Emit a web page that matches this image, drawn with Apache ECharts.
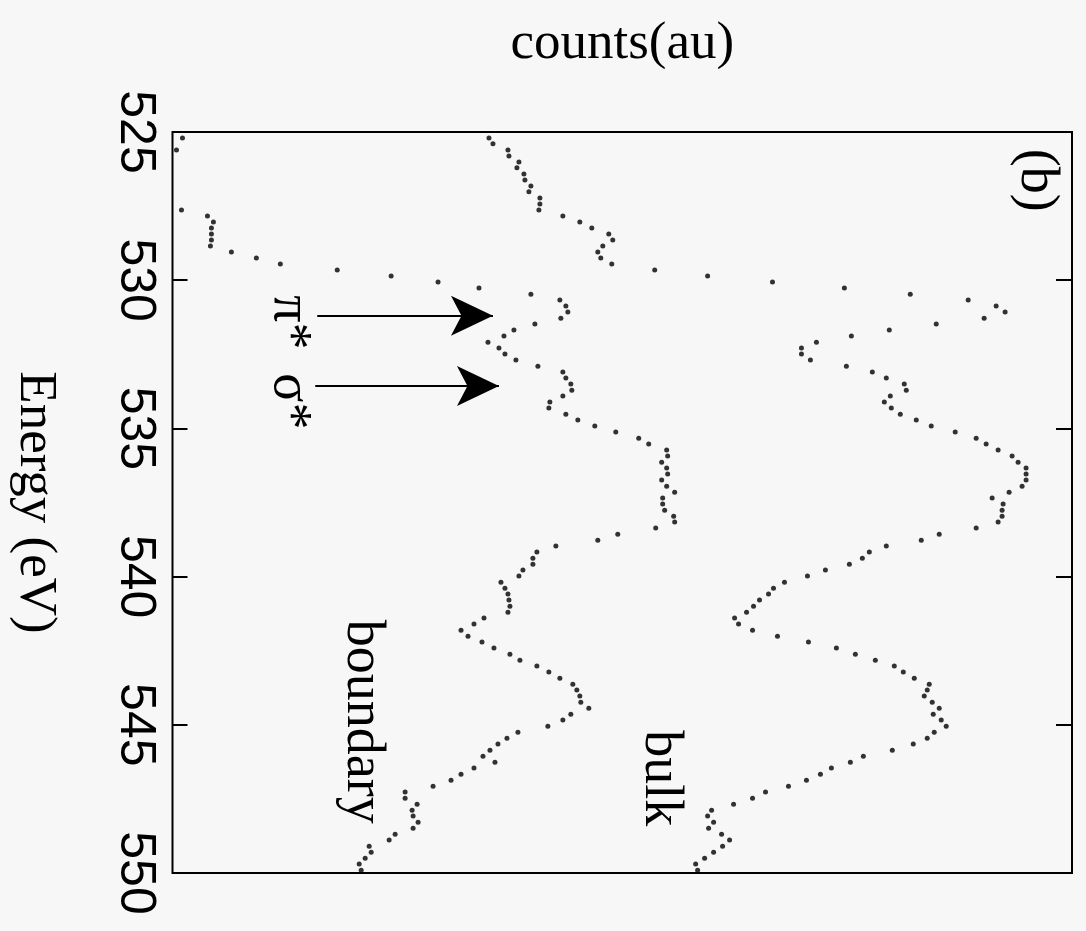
<!DOCTYPE html>
<html>
<head>
<meta charset="utf-8">
<script src="https://cdn.jsdelivr.net/npm/echarts@6/dist/echarts.min.js"></script>
<style>
  html, body { margin: 0; padding: 0; background: #f7f7f7; }
  #chart { width: 1086px; height: 931px; }
</style>
</head>
<body>
<div id="chart"></div>
<script>
const energy = [
  525.20,525.40,525.61,525.81,526.01,526.21,526.42,526.62,526.82,527.02,
  527.23,527.43,527.63,527.83,528.04,528.24,528.44,528.64,528.85,529.05,
  529.25,529.45,529.66,529.86,530.06,530.26,530.47,530.67,530.87,531.07,
  531.28,531.48,531.68,531.88,532.09,532.29,532.49,532.69,532.90,533.10,
  533.30,533.50,533.71,533.91,534.11,534.31,534.52,534.72,534.92,535.12,
  535.33,535.53,535.73,535.93,536.14,536.34,536.54,536.74,536.95,537.15,
  537.35,537.55,537.76,537.96,538.16,538.36,538.57,538.77,538.97,539.17,
  539.38,539.58,539.78,539.98,540.19,540.39,540.59,540.79,541.00,541.20,
  541.40,541.60,541.81,542.01,542.21,542.41,542.62,542.82,543.02,543.22,
  543.43,543.63,543.83,544.03,544.24,544.44,544.64,544.84,545.05,545.25,
  545.45,545.65,545.86,546.06,546.26,546.46,546.67,546.87,547.07,547.27,
  547.48,547.68,547.88,548.08,548.29,548.49,548.69,548.89,549.10,549.30,
  549.50,549.70,549.91
];

// counts (au) of the bulk spectrum
const bulk = [
  317,321,336,337,347,345,352,353,359,357,
  368,368,367,391,408,420,437,441,431,426,
  429,440,483,536,601,673,739,797,825,834,
  813,765,718,680,645,630,630,639,675,701,
  715,733,735,719,713,720,729,745,760,784,
  805,815,827,841,847,855,855,855,851,838,
  821,832,831,831,827,805,768,750,715,698,
  691,678,654,636,613,602,597,588,582,575,
  563,567,581,606,637,665,684,704,723,732,
  743,758,756,753,761,768,762,770,775,763,
  756,742,721,692,679,660,649,635,617,594,
  581,562,540,536,542,537,550,558,551,542,
  533,524,526
];

// counts (au) of the boundary spectrum (null = below the plotted range)
const boundary = [
  10,null,4,null,null,null,null,null,null,null,
  null,null,9,35,41,39,39,39,38,59,
  84,108,165,219,266,307,359,388,394,396,
  389,363,342,332,316,327,333,344,366,391,
  394,399,400,391,378,377,394,406,423,444,
  467,477,495,496,490,495,496,490,495,503,
  491,491,493,502,503,484,446,426,384,365,
  361,361,351,347,329,333,336,337,338,336,
  312,302,289,296,310,322,338,348,365,377,
  388,401,405,408,409,417,399,391,376,346,
  335,326,318,311,323,302,289,279,261,233,
  233,245,240,241,246,241,223,217,197,199,
  193,187,189
];

const energyTicks = [525, 530, 535, 540, 545, 550];
const countsRange = [0, 901];

// Arrow annotations: [label, arrow energy, counts start, counts end, label energy]
const arrows = [
  ['π*', 531.2, 145, 321, 531.42],
  ['σ*', 533.57, 143, 327, 534.09]
];

// Text annotations: [text, counts, energy]
const notes = [
  ['(b)', 865, 526.63],
  ['bulk', 488, 546.8],
  ['boundary', 190, 544.9]
];

const chart = echarts.init(document.getElementById('chart'), null, { renderer: 'canvas' });

function pairs(vals) {
  const out = [];
  for (let i = 0; i < energy.length; i++) {
    if (vals[i] !== null && vals[i] !== undefined) out.push([vals[i], energy[i]]);
  }
  return out;
}

const serif = '"Liberation Serif", "Times New Roman", serif';
const sans = '"Liberation Sans", Arial, sans-serif';
const ink = '#000';

const option = {
  backgroundColor: '#f7f7f7',
  animation: false,
  grid: {
    left: 172, right: 14, top: 132, bottom: 58,
    show: true, borderColor: ink, borderWidth: 2, backgroundColor: 'transparent'
  },
  xAxis: {
    type: 'value', position: 'top',
    min: countsRange[0], max: countsRange[1],
    axisLine: { show: false }, axisTick: { show: false },
    axisLabel: { show: false }, splitLine: { show: false },
    name: 'counts(au)', nameLocation: 'middle', nameGap: 88,
    nameTextStyle: { fontFamily: serif, fontSize: 53, color: ink, align: 'center', verticalAlign: 'middle' }
  },
  yAxis: [{
    type: 'value', inverse: true, position: 'left',
    min: 525, max: 550, interval: 5,
    axisLine: { show: false },
    axisTick: { show: true, inside: true, length: 15, lineStyle: { color: ink, width: 2 } },
    axisLabel: {
      rotate: -90, margin: 38, fontFamily: sans, fontSize: 50, color: ink,
      align: 'center', verticalAlign: 'middle',
      formatter: v => (energyTicks.indexOf(v) >= 0 ? String(v) : '')
    },
    splitLine: { show: false },
    name: 'Energy (eV)', nameLocation: 'middle', nameGap: 138, nameRotate: -90,
    nameTextStyle: { fontFamily: serif, fontSize: 53, color: ink, align: 'center', verticalAlign: 'middle' }
  }, {
    type: 'value', inverse: true, position: 'right',
    min: 525, max: 550, interval: 5,
    axisLine: { show: false },
    axisTick: { show: true, inside: true, length: 16, lineStyle: { color: ink, width: 2 } },
    axisLabel: { show: false }, splitLine: { show: false }
  }],
  series: [{
    name: 'bulk', type: 'scatter', yAxisIndex: 0,
    data: pairs(bulk), symbol: 'circle', symbolSize: 5,
    itemStyle: { color: ink }
  }, {
    name: 'boundary', type: 'scatter', yAxisIndex: 0,
    data: pairs(boundary), symbol: 'circle', symbolSize: 5,
    itemStyle: { color: ink },
    markLine: {
      silent: true, symbol: ['none', 'arrow'], symbolSize: [30, 42],
      lineStyle: { color: ink, width: 2, type: 'solid' },
      label: { show: false },
      data: arrows.map(a => [{ coord: [a[2], a[1]] }, { coord: [a[3], a[1]] }])
    }
  }]
};
chart.setOption(option);

// Rotated text annotations placed through the axes' own scales
function px(c, e) { return chart.convertToPixel({ xAxisIndex: 0, yAxisIndex: 0 }, [c, e]); }
const allNotes = notes.concat(arrows.map(a => [a[0], 117, a[4]]));

chart.setOption({
  graphic: allNotes.map(n => {
    const p = px(n[1], n[2]);
    return {
      type: 'text', x: p[0], y: p[1], rotation: -Math.PI / 2,
      style: { text: n[0], fontFamily: serif, fontSize: 54, fill: ink, align: 'center', verticalAlign: 'middle' }
    };
  })
});
</script>
</body>
</html>
